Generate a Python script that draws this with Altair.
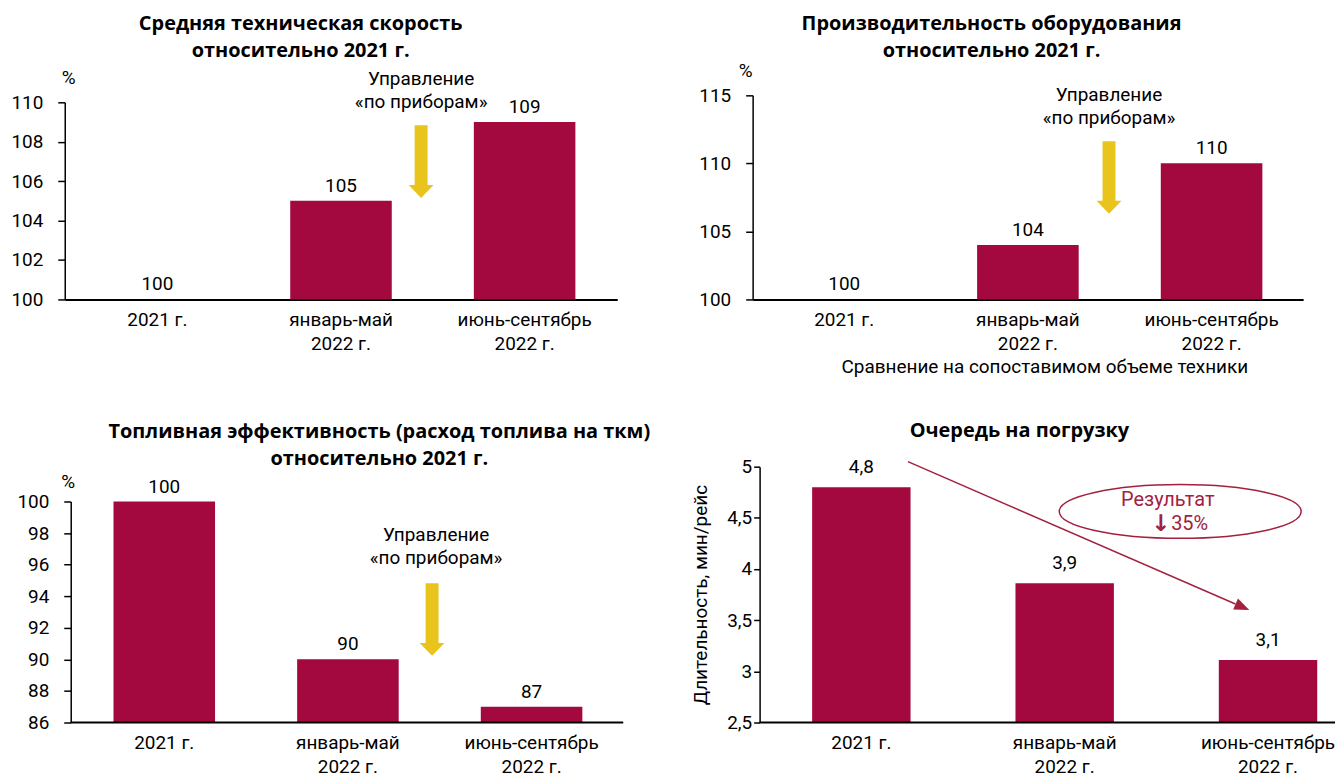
import altair as alt
import pandas as pd

# ---------------- data ----------------
categories = ["2021 г.", "январь-май\n2022 г.", "июнь-сентябрь\n2022 г."]

speed = [100, 105, 109]
speed_labels = ["100", "105", "109"]
speed_ticks = [100, 102, 104, 106, 108, 110]

productivity = [100, 104, 110]
productivity_labels = ["100", "104", "110"]
productivity_ticks = [100, 105, 110, 115]

fuel = [100, 90, 87]
fuel_labels = ["100", "90", "87"]
fuel_ticks = [86, 88, 90, 92, 94, 96, 98, 100]

queue = [4.8, 3.86, 3.11]
queue_labels = ["4,8", "3,9", "3,1"]
queue_ticks = [2.5, 3, 3.5, 4, 4.5, 5]

title_speed = "Средняя техническая скорость\nотносительно 2021 г."
title_prod = "Производительность оборудования\nотносительно 2021 г."
title_fuel = "Топливная эффективность (расход топлива на ткм)\nотносительно 2021 г."
title_queue = "Очередь на погрузку"
note_prod = "Сравнение на сопоставимом объеме техники"
y_title_queue = "Длительность, мин/рейс"
instr_text = "Управление\n«по приборам»"
result_text = "Результат"
result_arrow = "↓"
result_pct = "35%"

# ---------------- style ----------------
FONT = "Roboto"
TFONT = "Open Sans"
FS = 19
BAR = "#A3093E"
YEL = "#E8C41C"
RED = "#A3213F"

one = pd.DataFrame({"a": [0]})

ARROW_PATH = ("M -0.178 -1 L 0.178 -1 L 0.178 0.644 L 0.342 0.644 L 0 1 "
              "L -0.342 0.644 L -0.178 0.644 Z")
HEAD_PATH = "M 1 0 L -1 -0.8 L -1 0.8 Z"
ELLIPSE_PATH = "M -1 0 A 1 0.222 0 1 0 1 0 A 1 0.222 0 1 0 -1 0 Z"

LABEL_EXPR = "split(datum.label, '\\n')"


def txt(x, y, s, size=FS, color="black", lh=23, font=FONT, weight="normal"):
    return alt.Chart(one).mark_text(
        text=s, fontSize=size, font=font, fontWeight=weight, color=color,
        align="center", baseline="middle", lineBreak="\n", lineHeight=lh
    ).encode(x=alt.value(x), y=alt.value(y))


def title_txt(x, y, s):
    return txt(x, y, s, size=20, lh=27, font=TFONT, weight="bold")


def yarrow(x, y):
    return alt.Chart(one).mark_point(
        shape=ARROW_PATH, size=5329, filled=True, color=YEL, opacity=1, strokeWidth=0
    ).encode(x=alt.value(x), y=alt.value(y))


def xline(x0, x1, y):
    return alt.Chart(one).mark_rule(color="black", strokeWidth=2).encode(
        x=alt.value(x0), x2=alt.value(x1), y=alt.value(y))


def panel(values, labels, ticks, yrange, width, height, pin, pout, align=0.5,
          label_dy=-15, y_axis=None, x_axis=None, extras=()):
    df = pd.DataFrame({"cat": categories, "val": values, "lab": labels})
    xa = dict(title=None, ticks=False, tickSize=0, labelAngle=0, labelPadding=11,
              labelLineHeight=24, labelExpr=LABEL_EXPR, domainWidth=2,
              domainColor="black")
    if x_axis:
        xa.update(x_axis)
    ya = dict(title=None, values=ticks, tickCount=20, format="d", tickSize=7,
              tickWidth=1.5, domainWidth=1.5, labelPadding=15, domainColor="black",
              tickColor="black", labelOverlap=False)
    if y_axis:
        ya.update(y_axis)
    x = alt.X("cat:N", sort=categories,
              scale=alt.Scale(paddingInner=pin, paddingOuter=pout, align=align),
              axis=alt.Axis(**xa))
    y = alt.Y("val:Q", scale=alt.Scale(domain=[ticks[0], ticks[-1]], range=yrange,
                                       nice=False, zero=False),
              axis=alt.Axis(**ya))
    bars = alt.Chart(df).mark_bar(color=BAR).encode(
        x=x, y=y, y2=alt.datum(ticks[0]))
    text = alt.Chart(df).mark_text(
        dy=label_dy, fontSize=FS, font=FONT, color="black", baseline="middle"
    ).encode(x=alt.X("cat:N", sort=categories), y="val:Q", text="lab:N")
    return alt.layer(bars, text, *extras).properties(width=width, height=height)


p1 = panel(speed, speed_labels, speed_ticks, [205, 7], 555, 205, 0.447, 0.228,
           extras=[title_txt(237, -71.5, title_speed), txt(4, -17, "%"),
                   txt(358, -16, instr_text), yarrow(358, 66.5)])

p2 = panel(productivity, productivity_labels, productivity_ticks, [205, 0], 553, 205,
           0.447, 0.222,
           x_axis=dict(title=note_prod, titleX=293, titlePadding=4, titleAlign="center",
                       titleFontWeight="normal"),
           extras=[title_txt(240, -71.5, title_prod), txt(-7, -24, "%"),
                   txt(358, -0.5, instr_text), yarrow(358, 82.5)])

p3 = panel(fuel, fuel_labels, fuel_ticks, [257, 35], 561, 257, 0.447, 0.244, align=0.544,
           y_axis=dict(offset=-6),
           x_axis=dict(domain=False),
           extras=[xline(6, 561, 257), title_txt(316, -34.5, title_fuel),
                   txt(3.5, 15, "%"), txt(373, 69, instr_text), yarrow(369, 153.5)])

p4 = panel(queue, queue_labels, queue_ticks, [257, 0], 585, 257, 0.516, 0.19, align=0.77,
           label_dy=-20,
           x_axis=dict(domain=False),
           y_axis=dict(offset=-7, labelPadding=2, tickSize=6, title=y_title_queue,
                       titlePadding=16, format=".1f",
                       labelExpr="replace(format(datum.value, '.1~f'), '.', ',')"),
           extras=[
               xline(7, 585, 257),
               title_txt(268, -36, title_queue),
               alt.Chart(one).mark_rule(color=RED, strokeWidth=1.5).encode(
                   x=alt.value(156), y=alt.value(-5), x2=alt.value(485), y2=alt.value(138)),
               alt.Chart(one).mark_point(shape=HEAD_PATH, size=225, filled=True, color=RED,
                                         opacity=1, strokeWidth=0, angle=23.5).encode(
                   x=alt.value(492), y=alt.value(141)),
               alt.Chart(one).mark_point(shape=ELLIPSE_PATH, size=59049, filled=False,
                                         color=RED, opacity=1, strokeWidth=1.5).encode(
                   x=alt.value(429.5), y=alt.value(45)),
               txt(417, 34, result_text, size=20, color=RED),
               txt(410, 58, result_arrow, size=23, color=RED, font="DejaVu Sans",
                   weight="bold"),
               txt(439, 58, result_pct, size=20, color=RED),
           ])

chart = alt.concat(
    p1, p2, p3, p4, columns=2, bounds="flush", align="each",
    spacing=alt.RowColnumber(row=168, column=130)
).properties(
    padding={"left": 2, "top": 4, "right": 0, "bottom": 0}
).configure(font=FONT).configure_view(stroke=None).configure_axis(
    labelFont=FONT, labelFontSize=FS, labelColor="black", grid=False,
    titleFont=FONT, titleFontSize=FS, titleFontWeight="normal", titleColor="black"
)

chart.save("out.html", embed_options={"renderer": "svg", "actions": False})
